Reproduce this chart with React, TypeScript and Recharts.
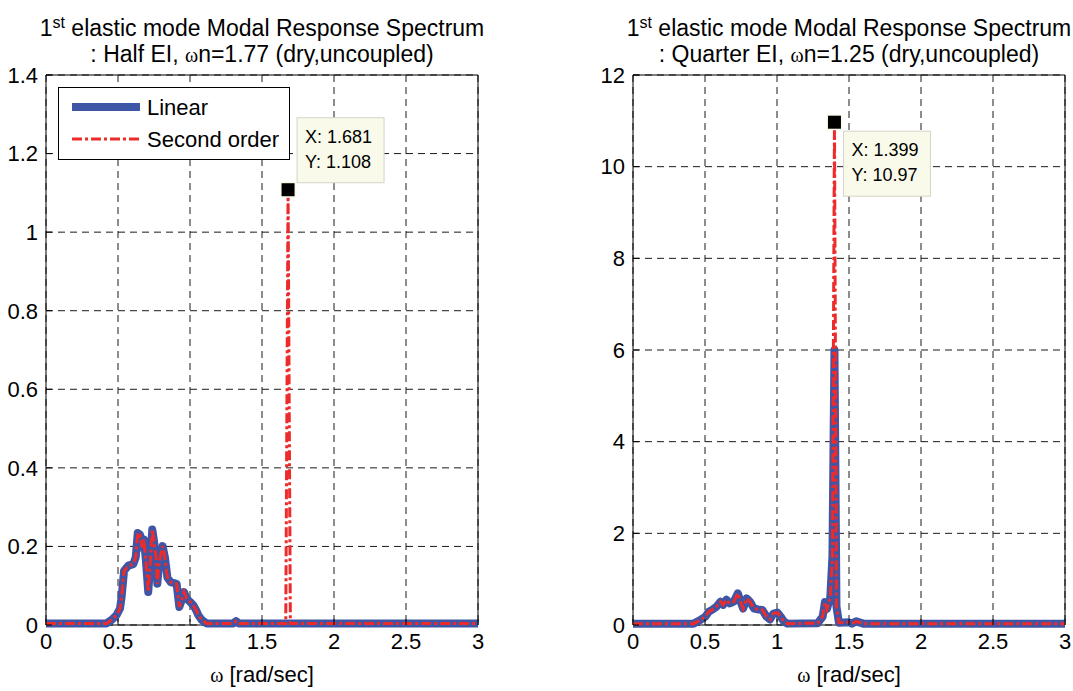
import React from "react";
import {
  LineChart,
  Line,
  XAxis,
  YAxis,
  CartesianGrid,
  ReferenceArea,
  ReferenceDot,
  Legend,
} from "recharts";

const FONT = '"Liberation Sans", Arial, Helvetica, sans-serif';
const SYMBOL_FONT = '"Liberation Serif", "DejaVu Serif", serif';
const BLUE = "#3f55a5";
const RED = "#ee2b2b";
const GRID = "#1a1a1a";
const TIP_FILL = "#fafaea";
const TIP_EDGE = "#d4d4c8";

// shared frequency axis [rad/sec]
const omegaTicks = [0, 0.5, 1, 1.5, 2, 2.5, 3];

// Half EI, wn = 1.77
const halfOmega = [
  0, 0.42, 0.456, 0.49, 0.514, 0.525, 0.542, 0.572, 0.606, 0.623, 0.637, 0.653,
  0.669, 0.68, 0.694, 0.71, 0.722, 0.738, 0.75, 0.764, 0.773, 0.787, 0.81, 0.826,
  0.843, 0.866, 0.907, 0.926, 0.942, 0.958, 0.977, 1.0, 1.023, 1.042, 1.058, 1.081,
  1.116, 1.3, 1.32, 1.34, 1.665, 1.681, 1.697, 3.0,
];
const halfLinear = [
  0.004, 0.004, 0.013, 0.025, 0.042, 0.071, 0.138, 0.151, 0.155, 0.172, 0.234, 0.23,
  0.197, 0.218, 0.163, 0.084, 0.146, 0.243, 0.214, 0.172, 0.105, 0.163, 0.201, 0.172,
  0.121, 0.109, 0.105, 0.046, 0.063, 0.084, 0.067, 0.059, 0.05, 0.038, 0.025, 0.013,
  0.004, 0.004, 0.01, 0.004, 0.004, 0.004, 0.004, 0.004,
];
const halfSecond = [
  0.004, 0.004, 0.013, 0.025, 0.042, 0.071, 0.138, 0.151, 0.155, 0.172, 0.234, 0.23,
  0.197, 0.218, 0.163, 0.084, 0.146, 0.243, 0.214, 0.172, 0.105, 0.163, 0.201, 0.172,
  0.121, 0.109, 0.105, 0.046, 0.063, 0.084, 0.067, 0.059, 0.05, 0.038, 0.025, 0.013,
  0.004, 0.004, 0.01, 0.004, 0.004, 1.108, 0.004, 0.004,
];
const halfTicks = [0, 0.2, 0.4, 0.6, 0.8, 1, 1.2, 1.4];
const halfPeak = { x: 1.681, y: 1.108 };

// Quarter EI, wn = 1.25
const quarterOmega = [
  0, 0.421, 0.468, 0.502, 0.526, 0.549, 0.579, 0.607, 0.626, 0.649, 0.672, 0.7,
  0.728, 0.747, 0.765, 0.789, 0.812, 0.84, 0.868, 0.898, 0.928, 0.951, 0.975, 1.003,
  1.026, 1.049, 1.073, 1.282, 1.317, 1.333, 1.347, 1.37, 1.385, 1.399, 1.413, 1.43,
  1.5, 1.52, 1.55, 1.6, 3.0,
];
const quarterLinear = [
  0.03, 0.03, 0.11, 0.18, 0.29, 0.33, 0.4, 0.51, 0.44, 0.55, 0.47, 0.51,
  0.69, 0.51, 0.36, 0.58, 0.51, 0.36, 0.34, 0.33, 0.18, 0.12, 0.25, 0.27,
  0.18, 0.07, 0.03, 0.04, 0.18, 0.5, 0.35, 0.6, 1.5, 6.0, 0.4, 0.05,
  0.06, 0.03, 0.08, 0.03, 0.03,
];
const quarterSecond = [
  0.03, 0.03, 0.11, 0.18, 0.29, 0.33, 0.4, 0.51, 0.44, 0.55, 0.47, 0.51,
  0.69, 0.51, 0.36, 0.58, 0.51, 0.36, 0.34, 0.33, 0.18, 0.12, 0.25, 0.27,
  0.18, 0.07, 0.03, 0.04, 0.18, 0.5, 0.35, 0.6, 1.5, 10.97, 0.4, 0.05,
  0.06, 0.03, 0.08, 0.03, 0.03,
];
const quarterTicks = [0, 2, 4, 6, 8, 10, 12];
const quarterPeak = { x: 1.399, y: 10.97 };

interface Row {
  w: number;
  lin: number;
  sec: number;
}

const toRows = (omega: number[], lin: number[], sec: number[]): Row[] =>
  omega.map((w, i) => ({ w, lin: lin[i], sec: sec[i] }));

interface TipProps {
  cx?: number;
  cy?: number;
  x: number;
  y: number;
  dx: number;
  dy: number;
}

// MATLAB-style data cursor: black square plus the pale yellow readout box
const DataTip = ({ cx = 0, cy = 0, x, y, dx, dy }: TipProps) => {
  const bx = cx + dx;
  const by = cy + dy;
  const txt = { fontSize: 18, fontFamily: FONT, fill: "#000" };
  return (
    <g>
      <rect x={bx} y={by} width={87} height={65} fill={TIP_FILL} stroke={TIP_EDGE} />
      <text x={bx + 8} y={by + 25} {...txt}>{`X: ${x}`}</text>
      <text x={bx + 8} y={by + 50} {...txt}>{`Y: ${y}`}</text>
      <rect x={cx - 8} y={cy - 8} width={16} height={16} fill={TIP_FILL} />
      <rect x={cx - 6.5} y={cy - 6.5} width={13} height={13} fill="#000" />
    </g>
  );
};

const LegendBox = () => {
  const txt = { fontSize: 22, fontFamily: FONT, fill: "#000" };
  return (
    <svg width={232} height={73} style={{ display: "block" }}>
      <rect x={0.5} y={0.5} width={231} height={72} fill="#fff" stroke="#000" />
      <line x1={14} x2={82} y1={20} y2={20} stroke={BLUE} strokeWidth={8} />
      <text x={89} y={28} {...txt}>Linear</text>
      <line
        x1={14}
        x2={82}
        y1={52}
        y2={52}
        stroke={RED}
        strokeWidth={3}
        strokeDasharray="10 3 3 3"
      />
      <text x={89} y={60} {...txt}>Second order</text>
    </svg>
  );
};

interface PanelProps {
  left: number;
  width: number;
  marginLeft: number;
  marginRight: number;
  rows: Row[];
  yTicks: number[];
  peak: { x: number; y: number };
  tipDx: number;
  tipDy: number;
  caseName: string;
  wn: string;
  withLegend?: boolean;
}

const HEIGHT = 691;
const Y_AXIS_W = 40;
const X_AXIS_H = 30;
const tickStyle = { fill: "#000", fontSize: 22, fontFamily: FONT };

function SpectrumPanel(p: PanelProps) {
  const yMax = p.yTicks[p.yTicks.length - 1];
  const plotLeft = p.marginLeft + Y_AXIS_W;
  const plotWidth = p.width - plotLeft - p.marginRight;
  const omega = (
    <span style={{ fontFamily: SYMBOL_FONT, fontSize: 20 }}>ω</span>
  );

  return (
    <div style={{ position: "absolute", left: p.left, top: 0, width: p.width, height: HEIGHT }}>
      <LineChart
        width={p.width}
        height={HEIGHT}
        data={p.rows}
        margin={{ top: 75, right: p.marginRight, bottom: 36, left: p.marginLeft }}
      >
        <CartesianGrid stroke={GRID} strokeDasharray="7 5" />
        <XAxis
          dataKey="w"
          type="number"
          domain={[0, 3]}
          ticks={omegaTicks}
          interval={0}
          height={X_AXIS_H}
          axisLine={false}
          tickLine={{ stroke: "#000" }}
          tickSize={-6}
          tickMargin={14}
          tick={tickStyle}
        />
        <XAxis
          xAxisId="top"
          orientation="top"
          type="number"
          domain={[0, 3]}
          ticks={omegaTicks}
          height={0}
          axisLine={false}
          tickLine={{ stroke: "#000" }}
          tickSize={-6}
          tick={false}
        />
        <YAxis
          type="number"
          domain={[0, yMax]}
          ticks={p.yTicks}
          interval={0}
          width={Y_AXIS_W}
          axisLine={false}
          tickLine={{ stroke: "#000" }}
          tickSize={-6}
          tickMargin={14}
          tick={tickStyle}
        />
        <YAxis
          yAxisId="right"
          orientation="right"
          type="number"
          domain={[0, yMax]}
          ticks={p.yTicks}
          width={0}
          axisLine={false}
          tickLine={{ stroke: "#000" }}
          tickSize={-6}
          tick={false}
        />
        <ReferenceArea
          x1={0}
          x2={3}
          y1={0}
          y2={yMax}
          fill="none"
          stroke="#000"
          strokeWidth={1}
          ifOverflow="visible"
        />
        <Line
          dataKey="lin"
          name="Linear"
          type="linear"
          stroke={BLUE}
          strokeWidth={8}
          strokeLinejoin="round"
          dot={false}
          activeDot={false}
          isAnimationActive={false}
        />
        <Line
          dataKey="sec"
          name="Second order"
          type="linear"
          stroke={RED}
          strokeWidth={3}
          strokeDasharray="10 3 3 3"
          dot={false}
          activeDot={false}
          isAnimationActive={false}
        />
        <ReferenceDot
          x={p.peak.x}
          y={p.peak.y}
          ifOverflow="visible"
          shape={(s: any) => (
            <DataTip cx={s.cx} cy={s.cy} x={p.peak.x} y={p.peak.y} dx={p.tipDx} dy={p.tipDy} />
          )}
        />
        {p.withLegend && (
          <Legend
            layout="vertical"
            align="center"
            verticalAlign="middle"
            content={() => <LegendBox />}
            wrapperStyle={{ position: "absolute", left: 58, top: 87, width: 232, height: 73 }}
          />
        )}
      </LineChart>

      <div
        style={{
          position: "absolute",
          left: plotLeft - 60,
          width: plotWidth + 120,
          top: 10,
          textAlign: "center",
          fontFamily: FONT,
          fontSize: 23,
          lineHeight: "26px",
          color: "#000",
        }}
      >
        <div>
          1<span style={{ fontSize: 16, verticalAlign: "8px" }}>st</span> elastic mode Modal
          Response Spectrum
        </div>
        <div>
          : {p.caseName} EI, {omega}n={p.wn} (dry,uncoupled)
        </div>
      </div>

      <div
        style={{
          position: "absolute",
          left: plotLeft,
          width: plotWidth,
          top: 662,
          textAlign: "center",
          fontFamily: FONT,
          fontSize: 22,
          lineHeight: "26px",
          color: "#000",
        }}
      >
        {omega} [rad/sec]
      </div>
    </div>
  );
}

export default function App() {
  const halfRows = toRows(halfOmega, halfLinear, halfSecond);
  const quarterRows = toRows(quarterOmega, quarterLinear, quarterSecond);

  return (
    <div
      style={{
        position: "absolute",
        left: 0,
        top: 0,
        width: 1073,
        height: HEIGHT,
        background: "#fff",
        overflow: "hidden",
      }}
    >
      <SpectrumPanel
        left={0}
        width={520}
        marginLeft={6}
        marginRight={42}
        rows={halfRows}
        yTicks={halfTicks}
        peak={halfPeak}
        tipDx={9}
        tipDy={-72}
        caseName="Half"
        wn="1.77"
        withLegend
      />
      <SpectrumPanel
        left={560}
        width={513}
        marginLeft={33}
        marginRight={8}
        rows={quarterRows}
        yTicks={quarterTicks}
        peak={quarterPeak}
        tipDx={9}
        tipDy={9}
        caseName="Quarter"
        wn="1.25"
      />
    </div>
  );
}
